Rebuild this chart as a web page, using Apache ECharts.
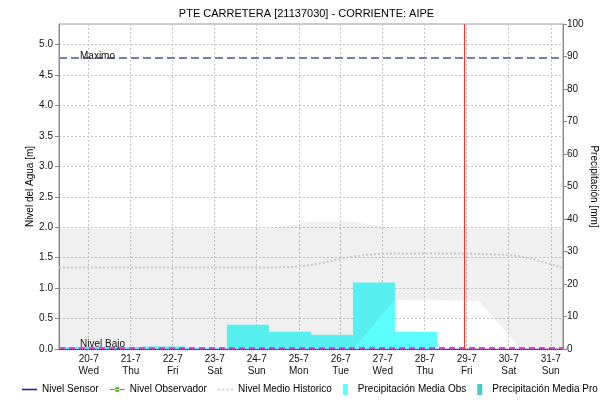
<!DOCTYPE html>
<html>
<head>
<meta charset="utf-8">
<script src="https://cdn.jsdelivr.net/npm/echarts@6/dist/echarts.min.js"></script>
<style>
  html, body { margin: 0; padding: 0; background: #fff; }
  #chart { width: 613px; height: 404px; }
</style>
</head>
<body>
<div id="chart"></div>
<script>
// Day-of-July positions; daily periods run from 07:00 to 07:00.
const H7 = 7 / 24;
const xMin = 19 + H7;
const xMax = 31 + H7;

// Tick days and their weekday names (July 2022)
const tickDays = [20, 21, 22, 23, 24, 25, 26, 27, 28, 29, 30, 31];
const tickWeekdays = ['Wed', 'Thu', 'Fri', 'Sat', 'Sun', 'Mon', 'Tue', 'Wed', 'Thu', 'Fri', 'Sat', 'Sun'];

// Daily observed precipitation [mm], one value per 07:00–07:00 period (bar centre = 19:00)
const precipDays = [19.79, 20.79, 21.79, 22.79, 23.79, 24.79, 25.79, 26.79, 27.79];
const precipObs = [0.6, 0.6, 0.8, 0.4, 7.5, 5.3, 4.4, 20.5, 5.3];
const precipPro = [];

// Historical water level envelope and mean [m], sampled at 07:00 each day
const histDays = [19, 20, 21, 22, 23, 24, 25, 26, 27, 28, 29, 30, 31].map(d => d + H7);
const histMax = [1.98, 1.98, 1.98, 1.98, 1.98, 1.98, 2.09, 2.09, 1.98, 1.98, 1.98, 1.98, 1.98];
const histMin = [0, 0, 0, 0, 0, 0, 0, 0, 0.81, 0.80, 0.79, 0, 0];
const histMean = [1.34, 1.34, 1.34, 1.34, 1.34, 1.34, 1.38, 1.52, 1.57, 1.57, 1.56, 1.52, 1.33];

// Sensor and observer readings (none in this period)
const sensorLevel = [];
const observerLevel = [];

// Reference levels [m] and current time
const levelMax = 4.78;
const levelLow = 0.02;
const nowDay = 28.93;

const pairs = (xs, ys) => ys.map((y, i) => [xs[i], y]);

const chart = echarts.init(document.getElementById('chart'), null, { renderer: 'canvas' });
const font = 'Liberation Sans, Arial, sans-serif';

// Legend glyphs
const iconLine = 'path://M0,0h15v1.5h-15z';
const iconLineDot = 'path://M0,2h15v1.2h-15z M7.5,0.1a2.5,2.5 0 1,0 0.01,0z';
const iconDots = 'path://M0,0h2v1.5h-2z M4.3,0h2v1.5h-2z M8.6,0h2v1.5h-2z M12.9,0h2v1.5h-2z';
const iconBar = 'path://M0,0h5v11h-5z';

chart.setOption({
  animation: false,
  textStyle: { fontFamily: font },
  title: {
    text: 'PTE CARRETERA [21137030] - CORRIENTE: AIPE',
    left: 'center',
    top: 3,
    textStyle: { fontSize: 11, fontWeight: 'normal', color: '#000', fontFamily: font }
  },
  grid: {
    left: 59, right: 50, top: 24, bottom: 55,
    show: true, borderColor: '#999', borderWidth: 1, backgroundColor: 'transparent'
  },
  legend: {
    bottom: 4,
    left: 17,
    itemGap: 11,
    itemWidth: 15,
    itemHeight: 11,
    textStyle: { fontSize: 10, color: '#000', fontFamily: font },
    data: [
      { name: 'Nivel Sensor', icon: iconLine },
      { name: 'Nivel Observador', icon: iconLineDot },
      { name: 'Nivel Medio Historico', icon: iconDots },
      { name: 'Precipitación Media Obs', icon: iconBar },
      { name: 'Precipitación Media Pro', icon: iconBar }
    ]
  },
  xAxis: {
    type: 'value',
    min: xMin,
    max: xMax,
    axisLine: { show: true, lineStyle: { color: '#333', type: [1, 1], width: 1 } },
    axisTick: { show: false, customValues: tickDays },
    axisLabel: {
      customValues: tickDays,
      fontSize: 10,
      color: '#111',
      lineHeight: 12,
      margin: 4,
      formatter: v => {
        const i = tickDays.indexOf(Math.round(v));
        return Math.round(v) + '-7\n' + (i >= 0 ? tickWeekdays[i] : '');
      }
    },
    splitLine: { show: true, lineStyle: { color: '#c8c8c8', type: [2, 2] } }
  },
  yAxis: [
    {
      type: 'value',
      min: 0,
      max: 5.34,
      interval: 0.5,
      name: 'Nivel del Agua [m]',
      nameLocation: 'middle',
      nameGap: 24,
      nameMoveOverlap: false,
      nameTextStyle: { fontSize: 10, color: '#000' },
      axisLine: { show: true, lineStyle: { color: '#888' } },
      axisTick: { show: true, length: 4, lineStyle: { color: '#888' } },
      axisLabel: {
        fontSize: 10, color: '#111', margin: 6, showMaxLabel: false,
        formatter: v => v.toFixed(1)
      },
      splitLine: { show: true, lineStyle: { color: '#c8c8c8', type: [2, 2] } }
    },
    {
      type: 'value',
      min: 0,
      max: 100,
      interval: 10,
      position: 'right',
      name: 'Precipitación [mm]',
      nameLocation: 'middle',
      nameRotate: -90,
      nameGap: 26,
      nameMoveOverlap: false,
      nameTextStyle: { fontSize: 10, color: '#000' },
      axisLine: { show: true, lineStyle: { color: '#888' } },
      axisTick: { show: true, length: 4, lineStyle: { color: '#888' } },
      axisLabel: { fontSize: 10, color: '#111', margin: 4 },
      splitLine: { show: false }
    }
  ],
  series: [
    {
      name: 'Precipitación Media Obs',
      type: 'bar',
      yAxisIndex: 1,
      barWidth: '100%',
      barGap: '-100%',
      itemStyle: { color: '#5cfefe' },
      data: pairs(precipDays, precipObs),
      z: 2
    },
    {
      name: 'Precipitación Media Pro',
      type: 'bar',
      yAxisIndex: 1,
      barWidth: '100%',
      barGap: '-100%',
      itemStyle: { color: '#44cccc' },
      data: pairs(precipDays, precipPro),
      z: 2
    },
    {
      // Historical min–max envelope, drawn as one polygon over the bars
      name: 'histRange',
      type: 'custom',
      silent: true,
      z: 3,
      data: [[xMin, 0]],
      encode: { x: 0, y: 1 },
      renderItem: (params, api) => {
        const pts = [];
        histDays.forEach((d, i) => pts.push(api.coord([d, histMax[i]])));
        for (let i = histDays.length - 1; i >= 0; i--) {
          pts.push(api.coord([histDays[i], histMin[i]]));
        }
        return {
          type: 'polygon',
          shape: { points: pts },
          style: { fill: 'rgba(0,0,0,0.06)' },
          silent: true
        };
      }
    },
    {
      name: 'Nivel Medio Historico',
      type: 'line',
      symbol: 'none',
      smooth: 0.3,
      itemStyle: { color: '#c8c8c8' },
      lineStyle: { color: '#c8c8c8', width: 2, type: [2, 2] },
      data: pairs(histDays, histMean),
      z: 4
    },
    {
      name: 'Nivel Sensor',
      type: 'line',
      symbol: 'none',
      itemStyle: { color: '#1414b4' },
      lineStyle: { color: '#1414b4', width: 1.5 },
      data: sensorLevel,
      z: 5,
      markLine: {
        silent: true,
        symbol: 'none',
        data: [
          {
            yAxis: levelMax,
            lineStyle: { color: '#7480a8', width: 2, type: [8, 4] },
            label: { formatter: 'Maximo', position: 'insideStartTop', distance: [21, -3], fontSize: 10, color: '#111' }
          },
          {
            yAxis: levelLow,
            lineStyle: { color: '#dd44dd', width: 2, type: [6, 4] },
            label: { formatter: 'Nivel Bajo', position: 'insideStartTop', distance: [21, -1], fontSize: 10, color: '#111' }
          },
          {
            xAxis: nowDay,
            lineStyle: { color: '#ff3333', width: 1, type: 'solid' },
            label: { show: false }
          }
        ]
      }
    },
    {
      name: 'Nivel Observador',
      type: 'line',
      symbol: 'circle',
      symbolSize: 4,
      itemStyle: { color: '#44aa22' },
      lineStyle: { color: '#44aa22', width: 1.5 },
      data: observerLevel,
      z: 5
    }
  ]
});
</script>
</body>
</html>
